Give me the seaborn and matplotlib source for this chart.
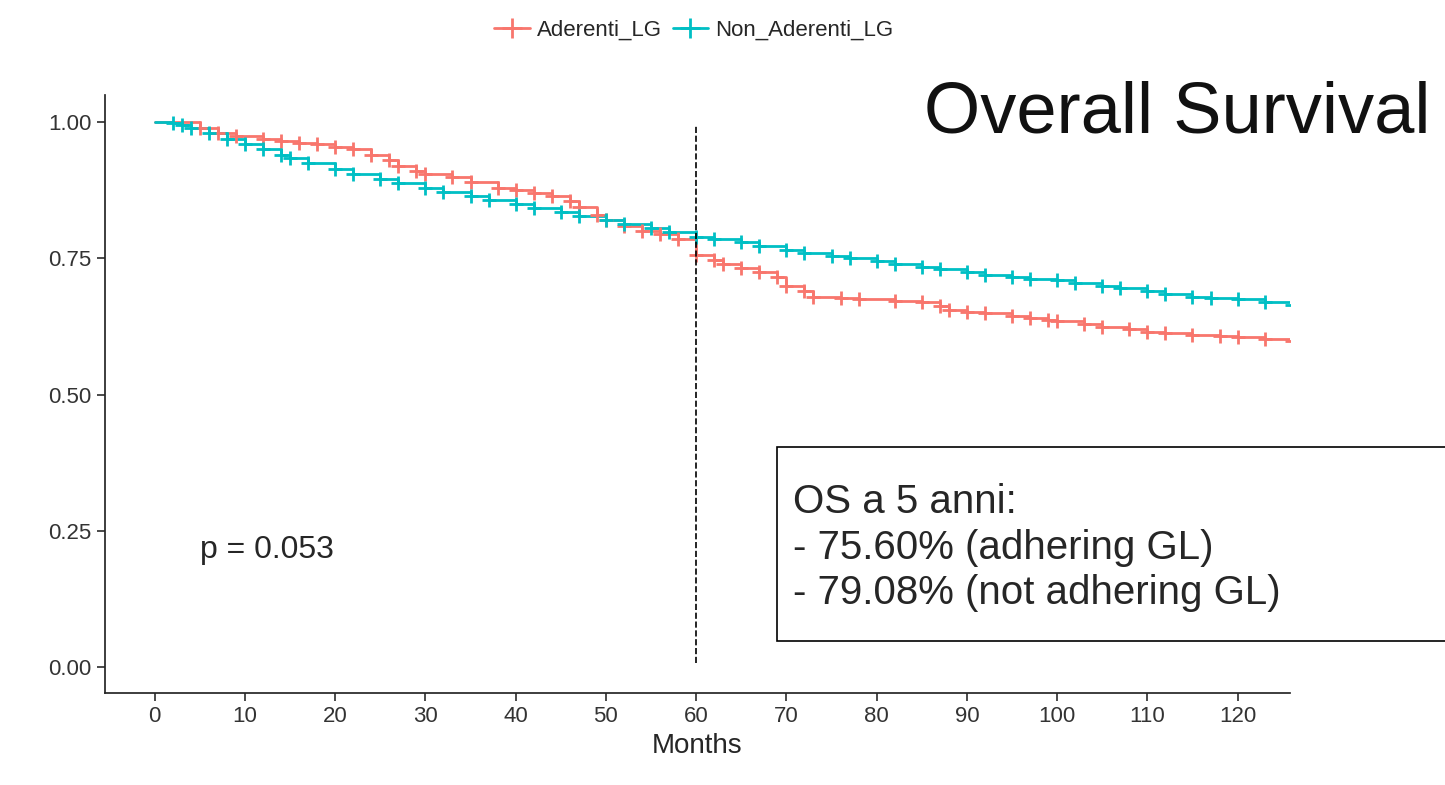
import matplotlib
matplotlib.use("Agg")
import matplotlib.pyplot as plt
import seaborn as sns
import pandas as pd
from matplotlib.patches import Rectangle
from matplotlib.lines import Line2D

sns.set_theme(style="ticks")
plt.rcParams['font.family'] = ['Liberation Sans', 'DejaVu Sans']

ad_t = [0, 5, 7, 9, 12, 14, 16, 18, 20, 22, 24, 26, 27, 29, 30, 33, 35, 38, 40, 42, 44, 46, 47, 49, 50, 52, 54, 56, 58, 60, 62, 63, 65, 67, 69, 70, 72, 73, 76, 78, 82, 85, 87, 88, 90, 92, 95, 97, 99, 100, 103, 105, 108, 110, 112, 115, 118, 120, 123, 126]
ad_s = [1.0, 0.99, 0.98, 0.975, 0.97, 0.965, 0.962, 0.96, 0.955, 0.95, 0.94, 0.93, 0.92, 0.91, 0.905, 0.9, 0.89, 0.88, 0.875, 0.87, 0.865, 0.855, 0.845, 0.83, 0.82, 0.81, 0.80, 0.795, 0.785, 0.756, 0.748, 0.74, 0.733, 0.725, 0.715, 0.70, 0.69, 0.68, 0.678, 0.675, 0.672, 0.67, 0.662, 0.655, 0.652, 0.65, 0.645, 0.64, 0.637, 0.635, 0.63, 0.625, 0.62, 0.615, 0.613, 0.61, 0.608, 0.605, 0.602, 0.598]
na_t = [0, 2, 3, 4, 6, 8, 10, 12, 14, 15, 17, 20, 22, 25, 27, 30, 32, 35, 37, 40, 42, 45, 47, 50, 52, 55, 57, 60, 62, 65, 67, 70, 72, 75, 77, 80, 82, 85, 87, 90, 92, 95, 97, 100, 102, 105, 107, 110, 112, 115, 117, 120, 123, 126]
na_s = [1.0, 0.998, 0.995, 0.99, 0.98, 0.97, 0.96, 0.95, 0.94, 0.935, 0.925, 0.915, 0.905, 0.895, 0.888, 0.88, 0.872, 0.865, 0.857, 0.85, 0.843, 0.835, 0.828, 0.82, 0.813, 0.805, 0.798, 0.79, 0.786, 0.78, 0.773, 0.765, 0.76, 0.755, 0.75, 0.745, 0.74, 0.735, 0.73, 0.725, 0.72, 0.715, 0.712, 0.71, 0.705, 0.70, 0.695, 0.69, 0.685, 0.68, 0.678, 0.675, 0.67, 0.665]

df = pd.concat([
    pd.DataFrame({"Months": ad_t, "S": ad_s, "grp": "Aderenti_LG"}),
    pd.DataFrame({"Months": na_t, "S": na_s, "grp": "Non_Aderenti_LG"}),
])
pal = {"Aderenti_LG": "#F8766D", "Non_Aderenti_LG": "#00BFC4"}

fig = plt.figure(figsize=(14.45, 7.85), dpi=100)
ax = fig.add_axes([0.0727, 0.117, 0.82, 0.762])
sns.lineplot(data=df, x="Months", y="S", hue="grp", palette=pal, drawstyle="steps-post",
             lw=2, ax=ax, legend=False)
for g, sub in df.groupby("grp"):
    ax.plot(sub["Months"][1:], sub["S"][1:], ls="none", marker="+", ms=10, mew=2, color=pal[g])
ax.axvline(60, ymin=0.05, ymax=0.95, color="black", ls="--", lw=1.2)
ax.set_xlim(-5.5, 125.8)
ax.set_ylim(-0.048, 1.05)
ax.set_xticks(range(0, 121, 10))
ax.set_yticks([0, 0.25, 0.5, 0.75, 1.0])
ax.set_yticklabels(["0.00", "0.25", "0.50", "0.75", "1.00"])
ax.tick_params(labelsize=16, colors="#333333")
ax.set_xlabel("Months", fontsize=20)
ax.set_ylabel("")
sns.despine(ax=ax)
ax.text(5, 0.2, "p = 0.053", fontsize=23)
fig.text(0.99, 0.855, "Overall Survival", fontsize=52, ha="right", va="center", color="#111111")
fig.patches.append(Rectangle((0.538, 0.183), 0.47, 0.248, transform=fig.transFigure,
                             fc="white", ec="black", lw=1.2))
fig.text(0.549, 0.302, "OS a 5 anni:\n- 75.60% (adhering GL)\n- 79.08% (not adhering GL)",
         fontsize=29, linespacing=1.25, va="center")
h = [Line2D([], [], color=pal[k], marker="+", ms=14, mew=2, lw=2) for k in pal]
fig.legend(h, list(pal), loc="upper center", bbox_to_anchor=(0.48, 1.0), ncol=2,
           frameon=False, fontsize=16, handlelength=1.6, columnspacing=0.5, handletextpad=0.3)
fig.savefig("out.png", dpi=100)
